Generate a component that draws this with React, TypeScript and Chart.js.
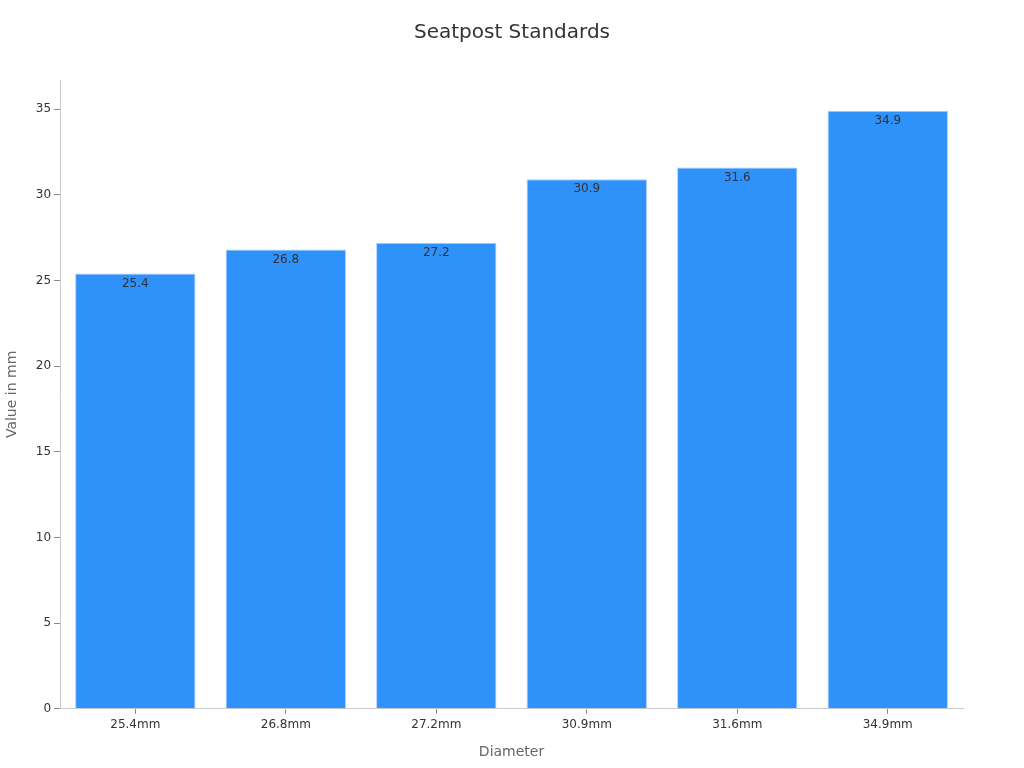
import { useEffect, useRef } from "react"
import { Chart, registerables, Plugin } from "chart.js"

Chart.register(...registerables)

const diameters = ["25.4mm", "26.8mm", "27.2mm", "30.9mm", "31.6mm", "34.9mm"]
const values = [25.4, 26.8, 27.2, 30.9, 31.6, 34.9]
const yTicks = [0, 5, 10, 15, 20, 25, 30, 35]
const chartTitle = "Seatpost Standards"

const font = "'DejaVu Sans', sans-serif"

// draws the value just inside the top of each bar
const barLabels: Plugin<"bar"> = {
  id: "barLabels",
  afterDatasetsDraw(chart) {
    const ctx = chart.ctx
    const meta = chart.getDatasetMeta(0)
    ctx.save()
    ctx.font = `12px ${font}`
    ctx.fillStyle = "#333333"
    ctx.textAlign = "center"
    ctx.textBaseline = "middle"
    meta.data.forEach((bar, i) => {
      ctx.fillText(String(values[i]), bar.x, bar.y + 10)
    })
    ctx.restore()
  },
}

// title centred on the whole canvas rather than the padded layout box
const pageTitle: Plugin<"bar"> = {
  id: "pageTitle",
  afterDraw(chart) {
    const ctx = chart.ctx
    ctx.save()
    ctx.font = `20px ${font}`
    ctx.fillStyle = "#333333"
    ctx.textAlign = "center"
    ctx.textBaseline = "middle"
    ctx.fillText(chartTitle, chart.width / 2, 33)
    ctx.restore()
  },
}

export default function App() {
  const chartRef = useRef<HTMLCanvasElement>(null)
  const chartInstance = useRef<Chart | null>(null)

  useEffect(() => {
    document.body.style.margin = "0"
    if (!chartRef.current) return
    if (chartInstance.current) chartInstance.current.destroy()

    chartInstance.current = new Chart(chartRef.current, {
      type: "bar",
      data: {
        labels: diameters,
        datasets: [
          {
            label: "Diameter",
            data: values,
            backgroundColor: "#2f91fa",
            borderColor: "#a8d0fc",
            borderWidth: 1,
            barPercentage: 0.8,
            categoryPercentage: 1,
          },
        ],
      },
      options: {
        animation: false,
        responsive: true,
        maintainAspectRatio: false,
        layout: { padding: { left: 0, right: 61, top: 80, bottom: 3 } },
        plugins: {
          legend: { display: false },
          tooltip: { enabled: false },
          title: { display: false },
        },
        scales: {
          x: {
            grid: {
              display: true,
              offset: false,
              drawOnChartArea: false,
              tickLength: 5,
              tickColor: "#888888",
            },
            border: { color: "#cccccc" },
            ticks: { color: "#333333", font: { family: font, size: 12 }, padding: 4 },
            title: {
              display: true,
              text: "Diameter",
              color: "#666666",
              font: { family: font, size: 14 },
              padding: { top: 8 },
            },
          },
          y: {
            min: 0,
            max: 36.7,
            afterBuildTicks: (axis) => {
              axis.ticks = yTicks.map((v) => ({ value: v }))
            },
            grid: { display: true, drawOnChartArea: false, tickLength: 6, tickColor: "#888888" },
            border: { color: "#cccccc" },
            ticks: { color: "#333333", font: { family: font, size: 12 }, padding: 3 },
            title: {
              display: true,
              text: "Value in mm",
              color: "#666666",
              font: { family: font, size: 14 },
              padding: { bottom: 12 },
            },
          },
        },
      },
      plugins: [barLabels, pageTitle],
    })

    return () => {
      if (chartInstance.current) {
        chartInstance.current.destroy()
        chartInstance.current = null
      }
    }
  }, [])

  return (
    <div style={{ width: 1024, height: 768, position: "relative" }}>
      <canvas ref={chartRef}></canvas>
    </div>
  )
}
